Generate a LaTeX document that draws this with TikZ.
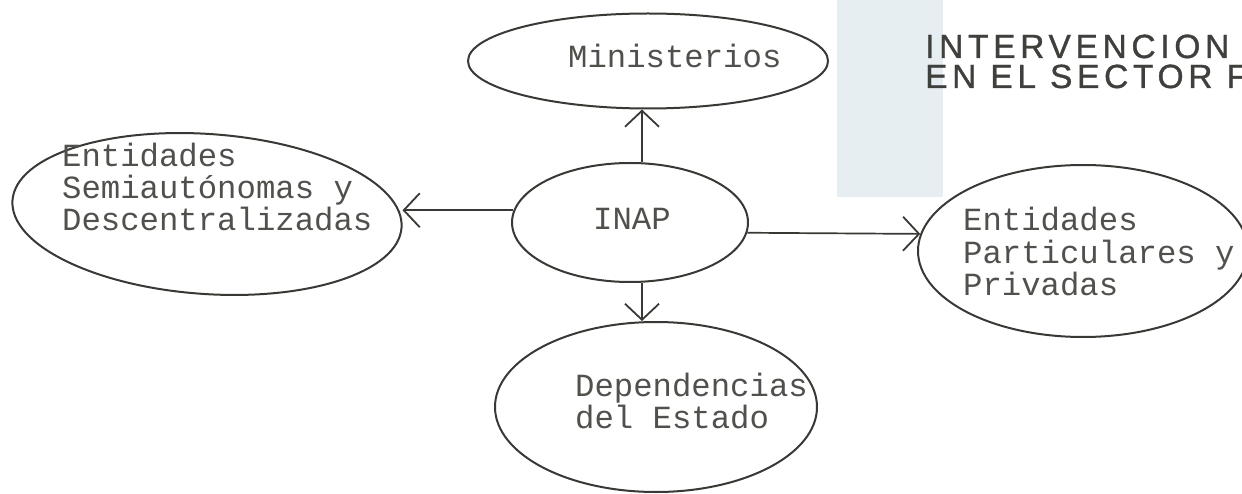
\documentclass[tikz,border=0pt]{standalone}
\usepackage{fontspec}
\setmonofont{Liberation Mono}
\newfontfamily\titlefont[LetterSpace=14,FakeBold=1]{Liberation Sans}
\usetikzlibrary{arrows.meta,shapes.geometric}
\definecolor{ink}{RGB}{55,58,52}
\definecolor{txt}{RGB}{80,80,76}
\definecolor{ttl}{RGB}{62,64,60}
\definecolor{paper}{RGB}{230,238,242}
\tikzset{
  oval/.style={ellipse, draw=ink, line width=2pt, inner sep=0pt},
  lbl/.style={anchor=base west, inner sep=0pt, align=left, text=txt,
    font=\ttfamily\fontsize{32.3pt}{32pt}\selectfont},
  arr/.style={draw=ink, line width=1.7pt,
    -{Straight Barb[length=16pt,width=34pt,line width=1.8pt]}},
  heading/.style={anchor=base west, inner sep=0pt, align=left, text=ttl,
    font=\titlefont\fontsize{33.5pt}{30pt}\selectfont}
}
\begin{document}
\begin{tikzpicture}[x=1pt,y=-1pt]
\useasboundingbox (0,0) rectangle (1242,494);
\fill[paper] (837,0) rectangle (943,197);
% ellipses
\node[oval, minimum width=360pt, minimum height=95pt] (mini) at (648,61) {};
\node[oval, minimum width=236pt, minimum height=119pt] (inap) at (630,222.5) {};
\node[oval, minimum width=390pt, minimum height=160pt, rotate=-4] (semi) at (207,214) {};
\node[oval, minimum width=322pt, minimum height=170pt] (dep) at (656,407) {};
\node[oval, minimum width=330pt, minimum height=172pt] (part) at (1083,251) {};
% texts (anchor = baseline of the last line)
\node[lbl] (minit) at (568,68) {Ministerios};
\node[lbl] (inapt) at (593,230) {INAP};
\node[lbl] (semit) at (62,231) {Entidades\\Semiautónomas y\\Descentralizadas};
\node[lbl] (dept) at (575,428) {Dependencias\\del Estado};
\node[lbl] (partt) at (963,295) {Entidades\\Particulares y\\Privadas};
\node[heading] (title) at (925,88) {INTERVENCION\\EN EL SECTOR F};
% connectors
\draw[arr] ([xshift=12pt]inap.north) -- ([xshift=12pt]inap.north |- mini.south);
\draw[arr] ([xshift=12pt]inap.south) -- ([xshift=12pt]inap.south |- dep.north);
\draw[arr] (inap.174) -- (inap.174 -| semi.east);
\draw[arr] (inap.-5) -- (part.174);
\end{tikzpicture}
\end{document}
